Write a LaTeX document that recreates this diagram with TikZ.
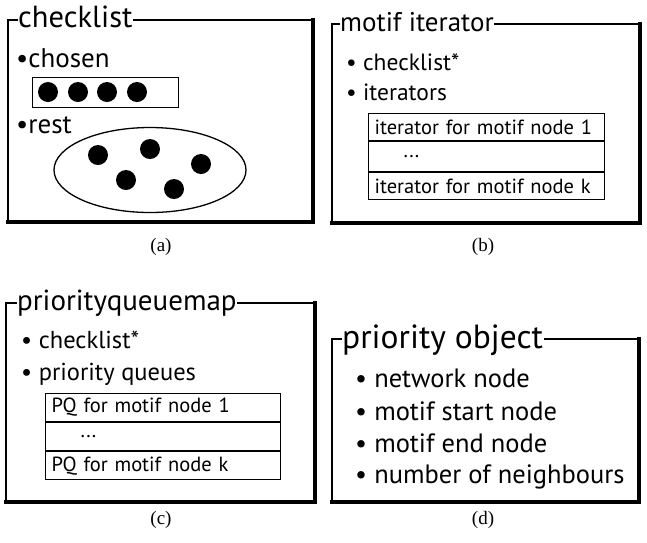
\documentclass[tikz,border=0pt]{standalone}
\usetikzlibrary{shapes.geometric}
\usepackage{fontspec}
\setmainfont{PT Sans}
\newfontfamily\capfont{Liberation Serif}
\begin{document}
\begin{tikzpicture}[x=1pt,y=-1pt,
  thinframe/.style={line width=2.2pt,line join=miter,line cap=rect},
  thickframe/.style={line width=3.4pt,line join=miter,line cap=rect},
  ttl/.style={anchor=base west,inner sep=0pt,font=\fontsize{#1}{#1}\selectfont},
  itemtxt/.style={anchor=base west,inner sep=0pt,font=\fontsize{#1}{#1}\selectfont},
  cell/.style={draw,line width=1.1pt,anchor=north west,inner xsep=6pt,inner ysep=0pt,
    text width=#1-12pt,minimum height=27pt,align=left,font=\fontsize{20.5}{20.5}\selectfont},
  captxt/.style={font=\capfont\fontsize{19}{19}\selectfont,inner sep=0pt},
  blackdot/.style={fill=black,circle,inner sep=0pt,minimum size=20pt},
  thinbox/.style={draw,line width=1.3pt}
]
\useasboundingbox (0,0) rectangle (647,542);

% ---------- (a) ----------
\coordinate (aNW) at (8,20);
\coordinate (aSE) at (313,222);
\node[ttl=30.5] (aT) at (18,27) {checklist};
\draw[thinframe] ([xshift=-1.5pt]aT.west |- aNW) -- (aNW) -- (aNW |- aSE);
\draw[thickframe] (aNW |- aSE) -- (aSE) -- (aSE |- aNW);
\draw[thinframe] (aSE |- aNW) -- ([xshift=1.5pt]aT.east |- aNW);
\node[itemtxt=27] (aI1) at (16,67) {•chosen};
\node[itemtxt=27] (aI2) at (16,133) {•rest};
\node[thinbox,anchor=north west,minimum width=146pt,minimum height=30pt,inner sep=0pt] (aCh) at (32,77) {};
\foreach \x [count=\i] in {48,78,107,137} \node[blackdot] (aC\i) at (\x,92) {};
\node[thinbox,ellipse,minimum width=192pt,minimum height=85pt,inner sep=0pt] (aRest) at (150,170) {};
\node[blackdot] (aR1) at (98,155) {};
\node[blackdot] (aR2) at (150,149) {};
\node[blackdot] (aR3) at (201,164) {};
\node[blackdot] (aR4) at (126,180) {};
\node[blackdot] (aR5) at (174,189) {};
\node[captxt] (aCap) at (161,247) {(a)};

% ---------- (b) ----------
\coordinate (bNW) at (332,24);
\coordinate (bSE) at (640,223);
\node[ttl=27] (bT) at (340,31) {motif iterator};
\draw[thinframe] ([xshift=-1.5pt]bT.west |- bNW) -- (bNW) -- (bNW |- bSE);
\draw[thickframe] (bNW |- bSE) -- (bSE) -- (bSE |- bNW);
\draw[thinframe] (bSE |- bNW) -- ([xshift=1.5pt]bT.east |- bNW);
\node[itemtxt=23.5] (bI1) at (346,70) {• checklist*};
\node[itemtxt=23.5] (bI2) at (346,100) {• iterators};
\node[cell=236pt,minimum height=27pt] (bR1) at (368,113) {iterator for motif node 1};
\node[cell=236pt,minimum height=30pt] (bR2) at (bR1.south west) {\hspace*{29pt}...};
\node[cell=236pt,minimum height=27pt] (bR3) at (bR2.south west) {iterator for motif node k};
\node[captxt] (bCap) at (483,247) {(b)};

% ---------- (c) ----------
\coordinate (cNW) at (6,303);
\coordinate (cSE) at (315,502);
\node[ttl=29] (cT) at (17,310) {priorityqueuemap};
\draw[thinframe] ([xshift=-1.5pt]cT.west |- cNW) -- (cNW) -- (cNW |- cSE);
\draw[thickframe] (cNW |- cSE) -- (cSE) -- (cSE |- cNW);
\draw[thinframe] (cSE |- cNW) -- ([xshift=1.5pt]cT.east |- cNW);
\node[itemtxt=24.5] (cI1) at (21,348) {• checklist*};
\node[itemtxt=24.5] (cI2) at (21,380) {• priority queues};
\node[cell=235pt,minimum height=28pt] (cR1) at (45,393) {PQ for motif node 1};
\node[cell=235pt,minimum height=28pt] (cR2) at (cR1.south west) {\hspace*{29pt}...};
\node[cell=235pt,minimum height=28pt] (cR3) at (cR2.south west) {PQ for motif node k};
\node[captxt] (cCap) at (161,520) {(c)};

% ---------- (d) ----------
\coordinate (dNW) at (332,339);
\coordinate (dSE) at (639,502);
\node[ttl=33.5] (dT) at (342,348) {priority object};
\draw[thinframe] ([xshift=-1.5pt]dT.west |- dNW) -- (dNW) -- (dNW |- dSE);
\draw[thickframe] (dNW |- dSE) -- (dSE) -- (dSE |- dNW);
\draw[thinframe] (dSE |- dNW) -- ([xshift=1.5pt]dT.east |- dNW);
\node[itemtxt=26.5] (dI1) at (355,387) {• network node};
\node[itemtxt=26.5] (dI2) at (355,420) {• motif start node};
\node[itemtxt=26.5] (dI3) at (355,452) {• motif end node};
\node[itemtxt=26.5] (dI4) at (355,483) {• number of neighbours};
\node[captxt] (dCap) at (483,520) {(d)};
\end{tikzpicture}
\end{document}
